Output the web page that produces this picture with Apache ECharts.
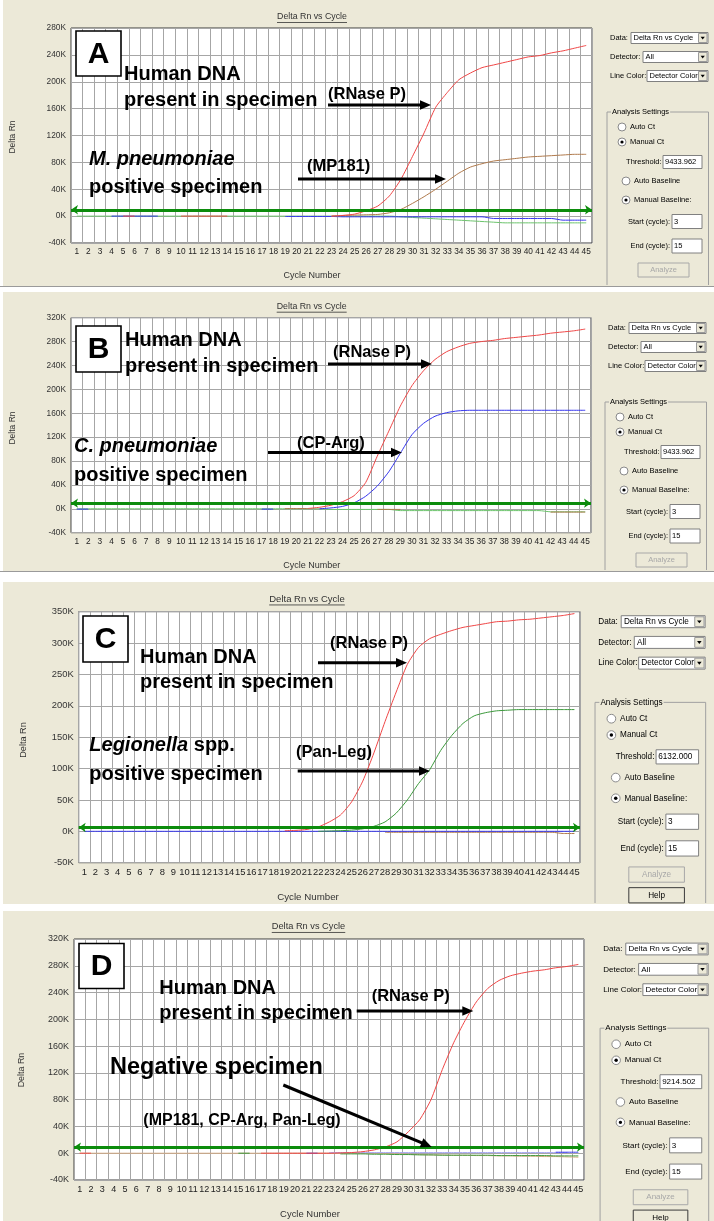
<!DOCTYPE html>
<html>
<head>
<meta charset="utf-8">
<title>Delta Rn vs Cycle</title>
<script src="https://cdn.jsdelivr.net/npm/echarts@6/dist/echarts.min.js"></script>
<style>
  html, body { margin: 0; padding: 0; background: #fff; }
  #chart { width: 714px; height: 1221px; }
</style>
</head>
<body>
<div id="chart"></div>
<script>
const _ = null;

// cycle numbers on the x axis
const cycles = ['1','2','3','4','5','6','7','8','9','10','11','12','13','14','15',
  '16','17','18','19','20','21','22','23','24','25','26','27','28','29','30',
  '31','32','33','34','35','36','37','38','39','40','41','42','43','44','45'];

// y tick values, in thousands (shown as "K")
const aTicks = [-40, 0, 40, 80, 120, 160, 200, 240, 280];
const bTicks = [-40, 0, 40, 80, 120, 160, 200, 240, 280, 320];
const cTicks = [-50, 0, 50, 100, 150, 200, 250, 300, 350];
const dTicks = [-40, 0, 40, 80, 120, 160, 200, 240, 280, 320];

// threshold fields, as shown in the settings box
const thresholds = ['9433.962', '9433.962', '6132.000', '9214.502'];

// ---- panel A : M. pneumoniae (Delta Rn, K) ----
const aGreen = [
  0, 0, 0, 0, 0, 0, 0, 0, 0, 0, 0, 0, 0, 0, 0,
  0, 0, 0, 0, 0, 0, 0, 0, 0, 0, 0, 0, 0, -1, -2,
  -3, -4, -5, -6, -7, -8, -9, -10, -10, -10, -10, -10, -10, -10, -10];
const aBlue = [
  _, _, _, 0, 0, 0, 0, 0, _, _, _, _, _, _, _,
  _, _, _, -0.5, -0.5, -0.5, -0.5, -0.5, -1, -1, -1, -1, -1, -1, -1,
  -1, -1, -1, -1, -1, -1, -3.5, -3.5, -3.5, -3.5, -3.5, -3.5, -6, -6, -6];
const aBrown = [
  _, _, _, _, _, _, _, _, _, _, _, _, _, _, _,
  _, _, _, _, _, _, _, 0, 1, 1.5, 2, 2.5, 5, 10, 19,
  29, 40, 52, 64, 73, 78, 82, 84, 86, 88, 89, 90, 91, 92, 92];
const aRed = [
  _, _, _, _, 0, 0, _, _, _, 0, 0, 0, 0, 0, _,
  _, _, _, _, _, _, _, 0, 1, 3, 8, 15, 30, 55, 89,
  124, 162, 184, 203, 213, 221, 225, 229, 233, 237, 239, 243, 246, 250, 254];

// ---- panel B : C. pneumoniae ----
const bGreen = [
  0, 0, 0, 0, 0, 0, 0, 0, 0, 0, 0, 0, 0, 0, 0,
  0, 0, 0, 0, 0, 0, 0, -1, -1, -1, -1, -1, -1, -3, -3,
  -3, -3, -3, -3, -3, -3, -3, -3, -3, -3, -3, -5, -5, -5, -5];
const bBrown = [
  _, _, _, _, _, _, _, _, _, _, _, _, _, _, _,
  _, _, _, 0.5, 0.5, 0.5, _, _, _, _, _, -1, -1, -1, _,
  _, _, _, _, _, _, _, _, _, _, _, -5.5, -5.5, -5.5, -5.5];
const bBlue = [
  -0.5, -0.5, _, _, _, _, _, _, _, _, _, _, _, _, _,
  _, -0.5, -0.5, _, _, _, 0, 1.5, 4, 10, 21, 38, 62, 93, 124,
  143, 155, 161, 164, 165, 165, 165, 165, 165, 165, 165, 165, 165, 165, 165];
const bRed = [
  _, _, _, _, _, _, _, _, _, _, _, _, _, _, _,
  _, _, _, _, _, 0.5, 2.5, 6, 12, 22, 44, 88, 130, 172, 206,
  231, 250, 263, 271, 277, 280, 282, 285, 287, 289, 291, 294, 296, 298, 301];

// ---- panel C : Legionella spp. ----
const cBlue = [
  0, 0, 0, 0, 0, 0, 0, 0, 0, 0, 0, 0, 0, 0, 0,
  0, 0, 0, 0, 0, 0, 0, 0, 0, 0, 0, 0, 0, 0, 0,
  0, 0, 0, 0, 0, 0, 0, 0, 0, 0, 0, 0, 0, 0, 0];
const cBrown = [
  _, _, _, _, _, _, _, _, _, _, _, _, _, _, _,
  _, _, _, _, _, _, _, _, _, _, _, _, -1.5, -1.5, -1.5,
  -1.5, -1.5, -1.5, -1.5, -1.5, -1.5, -1.5, -1.5, -1.5, -1.5, -1.5, -1.5, -1.5, -3.5, -3.5];
const cGreen = [
  _, _, _, _, _, _, _, _, _, _, _, _, _, _, _,
  _, _, _, _, _, _, 0, 0.5, 1, 2, 4, 8, 15, 29, 50,
  76, 98, 129, 153, 172, 184, 189, 192, 193, 194, 194, 194, 194, 194, 194];
const cRed = [
  _, _, _, _, _, _, _, _, _, _, _, _, _, _, _,
  _, _, _, 1, 1.5, 3, 7, 15, 26, 47, 80, 125, 175, 222, 266,
  293, 307, 314, 320, 325, 328, 331, 334, 335, 337, 338, 340, 342, 344, 347];

// ---- panel D : negative specimen ----
const dTan = [
  0, 0, 0, 0, 0, 0, 0, 0, 0, 0, 0, 0, 0, 0, 0,
  0, 0, 0, 0, 0, 0, 0, 0, 0, 0, 0, 0, -0.5, -1, -1.5,
  -2, -2.5, -2.5, -3, -3, -3.5, -3.5, -4, -4, -4.5, -4.5, -5, -5, -5.5, -6];
const dGreen = [
  _, _, _, _, _, _, _, _, _, _, _, _, _, _, 0,
  0, _, _, _, _, _, _, _, -1, -1, -1, -1.5, -1.5, -2, -2,
  -2.5, -2.5, -3, -3, -3, -3, -3, -3.5, -3.5, -3.5, -3.5, -3.5, -4, -4, -4];
const dLavender = [
  _, _, _, _, _, _, _, _, _, _, _, _, _, _, _,
  _, _, _, _, _, _, _, 1, 1, 1, 1, 1, 1, 1, 1,
  1, 1, 1, 1, 1, 1, 1, 1, 1, 1, 1, 1, 1, 1, _];
const dBlue = [
  _, _, _, _, _, _, _, _, _, _, _, _, _, _, _,
  _, _, _, _, _, 0, 0, _, _, _, _, _, _, _, _,
  _, _, _, _, _, _, _, _, _, _, _, _, 1.5, 1.5, 1.5];
const dRed = [
  0, 0, _, _, _, _, _, _, _, _, _, _, _, _, _,
  _, 0, 0, 0, 0, 0, 0, 0, 0.5, 1, 2.4, 5, 9.5, 17, 32,
  50, 80, 125, 165, 198, 226, 246, 258, 265, 269, 272, 274, 277, 279, 282];

const FONT = '"Liberation Sans", Arial, sans-serif';
const BEIGE = '#ece9d8';
const col = {
  red: '#f04646', brown: '#b07a4c', blue: '#3434ee', green: '#3c9a3c',
  lightGreen: '#6cc46c', tan: '#d4aa80', lavender: '#a8a8f4', threshold: '#0c8c0c'
};

const panels = [
  { grid: { left: 71, top: 28, width: 521, height: 215 }, ticks: aTicks, fs: 8.3, f: 1,
    lines: [[aGreen, col.lightGreen], [aBlue, col.blue], [aBrown, col.brown], [aRed, col.red]],
    title: [312, 17], xName: [312, 276], yName: [13, 137],
    ctl: [610, 38, 1, 285, false] },
  { grid: { left: 71, top: 317.7, width: 520, height: 215 }, ticks: bTicks, fs: 8.3, f: 1,
    lines: [[bGreen, col.lightGreen], [bBrown, col.brown], [bBlue, col.blue], [bRed, col.red]],
    title: [311.7, 306.7], xName: [311.7, 566], yName: [13, 428],
    ctl: [608, 328, 1, 570, false] },
  { grid: { left: 78.7, top: 611.7, width: 501.3, height: 251 }, ticks: cTicks, fs: 9.4, f: 1.08,
    lines: [[cBrown, col.brown], [cBlue, col.blue], [cGreen, col.green], [cRed, col.red]],
    title: [307, 599], xName: [308, 897], yName: [23.3, 740],
    ctl: [598.3, 621.7, 1.09, 903, true] },
  { grid: { left: 74, top: 939, width: 510, height: 241 }, ticks: dTicks, fs: 9, f: 1.05,
    lines: [[dTan, col.tan], [dGreen, col.green], [dLavender, col.lavender], [dBlue, col.blue], [dRed, col.red]],
    title: [308.5, 926.7], xName: [310, 1214], yName: [21.7, 1070],
    ctl: [603.3, 949, 1.07, 1221, true] }
];

// ---------- drawing helpers for the annotation layer ----------
function txt(x, y, text, size, opt) {
  opt = opt || {};
  return { type: 'text', x, y, z: 100, silent: true,
    style: { text, fill: '#000', align: opt.align || 'left', verticalAlign: 'middle',
      font: (opt.italic ? 'italic ' : '') + 'bold ' + size + 'px ' + FONT, rich: opt.rich } };
}
function arrow(x1, y1, x2, y2) {
  const dx = x2 - x1, dy = y2 - y1, len = Math.hypot(dx, dy);
  const ux = dx / len, uy = dy / len, hl = 11, hw = 4.8;
  const bx = x2 - ux * hl, by = y2 - uy * hl;
  return [
    { type: 'line', z: 100, silent: true, shape: { x1, y1, x2: bx + ux, y2: by + uy }, style: { stroke: '#000', lineWidth: 3 } },
    { type: 'polygon', z: 100, silent: true,
      shape: { points: [[x2, y2], [bx - uy * hw, by + ux * hw], [bx + uy * hw, by - ux * hw]] }, style: { fill: '#000' } }
  ];
}
function letterBox(x, y, w, h, letter) {
  return [
    { type: 'rect', z: 99, silent: true, shape: { x, y, width: w, height: h }, style: { fill: '#fff', stroke: '#000', lineWidth: 1.6 } },
    txt(x + w / 2, y + h / 2 + 1, letter, 30, { align: 'center' })
  ];
}

// window controls on the right of each panel
function controls(x0, y0, s, bottom, help, thr) {
  const X = v => x0 + s * (v - 610);
  const Y = v => y0 + s * (v - 38);
  const font = (7.5 * s).toFixed(2) + 'px ' + FONT;
  const els = [];
  const label = (x, y, text, align, fill) => els.push({ type: 'text', x: X(x), y: Y(y), z: 60, silent: true,
    style: { text, font, fill: fill || '#000', align: align || 'left', verticalAlign: 'middle' } });
  const box = (x1, y1, x2, y2, fill, stroke) => els.push({ type: 'rect', z: 55, silent: true,
    shape: { x: X(x1), y: Y(y1), width: s * (x2 - x1), height: s * (y2 - y1) },
    style: { fill: fill || '#fff', stroke: stroke || '#808080', lineWidth: 1 } });
  const combo = (y, name, x1, value) => {
    label(610, y, name);
    box(x1, y - 5.5, 708, y + 5.5);
    label(x1 + 2.5, y, value);
    box(698.5, y - 4.5, 707, y + 4.5, BEIGE, '#9a9a9a');
    els.push({ type: 'polygon', z: 61, silent: true,
      shape: { points: [[X(700.6), Y(y - 1.2)], [X(704.8), Y(y - 1.2)], [X(702.7), Y(y + 1.4)]] }, style: { fill: '#000' } });
  };
  const radio = (cx, cy, on, text) => {
    els.push({ type: 'circle', z: 55, silent: true, shape: { cx: X(cx), cy: Y(cy), r: 4 * s },
      style: { fill: '#fff', stroke: '#8a8a8a', lineWidth: 1 } });
    if (on) els.push({ type: 'circle', z: 56, silent: true, shape: { cx: X(cx), cy: Y(cy), r: 1.6 * s }, style: { fill: '#000' } });
    label(cx + 8, cy, text);
  };
  const button = (y1, text, enabled) => {
    box(638, y1, 689, y1 + 14, BEIGE, enabled ? '#3a3a3a' : '#a8a8a8');
    label(663.5, y1 + 7, text, 'center', enabled ? '#000' : '#a8a8a8');
  };

  combo(38, 'Data:', 631, 'Delta Rn vs Cycle');
  combo(57, 'Detector:', 643, 'All');
  combo(76, 'Line Color:', 647, 'Detector Color');
  els.push({ type: 'polyline', z: 54, silent: true,
    shape: { points: [[X(607), bottom], [X(607), Y(112)], [X(708.5), Y(112)], [X(708.5), bottom]] },
    style: { stroke: '#a0a0a0', lineWidth: 1, fill: null } });
  els.push({ type: 'text', x: X(611), y: Y(112), z: 60, silent: true,
    style: { text: 'Analysis Settings', font, fill: '#000', verticalAlign: 'middle', backgroundColor: BEIGE, padding: [1, 1] } });
  radio(622, 127, false, 'Auto Ct');
  radio(622, 142, true, 'Manual Ct');
  label(661.5, 162, 'Threshold:', 'right');
  box(663, 155.5, 702, 168.5);
  label(665, 162, thr);
  radio(626, 181, false, 'Auto Baseline');
  radio(626, 200, true, 'Manual Baseline:');
  label(670, 221.5, 'Start (cycle):', 'right');
  box(672, 214.5, 702, 228.5);
  label(674, 221.5, '3');
  label(670, 246, 'End (cycle):', 'right');
  box(672, 239, 702, 253);
  label(674, 246, '15');
  button(263, 'Analyze', false);
  if (help) button(282, 'Help', true);
  return els;
}

// titles and axis names drawn like the instrument software
function frameTexts(p) {
  const f = p.f;
  const w = 70 * f;
  return [
    { type: 'text', x: p.title[0], y: p.title[1], z: 60, silent: true,
      style: { text: 'Delta Rn vs Cycle', font: (8.8 * f) + 'px ' + FONT, fill: '#333', align: 'center', verticalAlign: 'middle' } },
    { type: 'line', z: 60, silent: true,
      shape: { x1: p.title[0] - w / 2, y1: p.title[1] + 5.5 * f, x2: p.title[0] + w / 2, y2: p.title[1] + 5.5 * f },
      style: { stroke: '#333', lineWidth: 0.8 } },
    { type: 'text', x: p.xName[0], y: p.xName[1], z: 60, silent: true,
      style: { text: 'Cycle Number', font: (9 * f) + 'px ' + FONT, fill: '#333', align: 'center', verticalAlign: 'middle' } },
    { type: 'text', x: p.yName[0], y: p.yName[1], rotation: Math.PI / 2, z: 60, silent: true,
      style: { text: 'Delta Rn', font: (8.5 * f) + 'px ' + FONT, fill: '#333', align: 'center', verticalAlign: 'middle' } }
  ];
}

// ---------- build the option ----------
const graphics = [
  { type: 'rect', z: -100, silent: true, shape: { x: 3, y: 0, width: 711, height: 286 }, style: { fill: BEIGE } },
  { type: 'line', z: -99, silent: true, shape: { x1: 0, y1: 286.5, x2: 714, y2: 286.5 }, style: { stroke: '#9a9a9a' } },
  { type: 'rect', z: -100, silent: true, shape: { x: 3, y: 292, width: 711, height: 279 }, style: { fill: BEIGE } },
  { type: 'line', z: -99, silent: true, shape: { x1: 0, y1: 571.5, x2: 714, y2: 571.5 }, style: { stroke: '#9a9a9a' } },
  { type: 'rect', z: -100, silent: true, shape: { x: 3, y: 582, width: 711, height: 322 }, style: { fill: BEIGE } },
  { type: 'rect', z: -100, silent: true, shape: { x: 3, y: 911, width: 711, height: 310 }, style: { fill: BEIGE } }
];

panels.forEach((p, i) => {
  graphics.push(...frameTexts(p));
  const c = p.ctl;
  graphics.push(...controls(c[0], c[1], c[2], c[3], c[4], thresholds[i]));
});

const big = 20, mid = 16.5;
graphics.push(
  // A
  ...letterBox(76, 31, 45, 45, 'A'),
  txt(124, 74, 'Human DNA', big), txt(124, 100.5, 'present in specimen', big),
  txt(89, 159.5, 'M. pneumoniae', big, { italic: true }), txt(89, 187, 'positive specimen', big),
  txt(328, 94, '(RNase P)', mid), ...arrow(328, 105, 431, 105),
  txt(307, 166, '(MP181)', mid), ...arrow(298, 179, 446, 179),
  // B
  ...letterBox(76, 326, 45, 46, 'B'),
  txt(125, 340.5, 'Human DNA', big), txt(125, 366.5, 'present in specimen', big),
  txt(74, 446, 'C. pneumoniae', big, { italic: true }), txt(74, 475.5, 'positive specimen', big),
  txt(333, 352.5, '(RNase P)', mid), ...arrow(328, 364, 432, 364),
  txt(297, 443.5, '(CP-Arg)', mid), ...arrow(268, 452.5, 402, 452.5),
  // C
  ...letterBox(83, 616, 45, 46, 'C'),
  txt(140, 657, 'Human DNA', big), txt(140, 682.5, 'present in specimen', big),
  txt(89.3, 745, '{i|Legionella} spp.', big, { rich: { i: { font: 'italic bold ' + big + 'px ' + FONT, fill: '#000' } } }),
  txt(89.3, 774, 'positive specimen', big),
  txt(330, 643.5, '(RNase P)', mid), ...arrow(318, 662.7, 407, 662.7),
  txt(296, 752.5, '(Pan-Leg)', mid), ...arrow(297.7, 771, 430, 771),
  // D
  ...letterBox(79, 943.5, 45, 45, 'D'),
  txt(159.3, 988, 'Human DNA', big), txt(159.3, 1013.5, 'present in specimen', big),
  txt(110, 1068, 'Negative specimen', 23.5),
  txt(143.3, 1121, '(MP181, CP-Arg, Pan-Leg)', 16),
  txt(371.7, 996, '(RNase P)', mid), ...arrow(356.7, 1011, 473.3, 1011),
  ...arrow(283.3, 1085, 431.7, 1147)
);

const grids = [], xAxes = [], yAxes = [], series = [];
panels.forEach((p, i) => {
  grids.push(Object.assign({ show: true, backgroundColor: '#fff', borderColor: '#3c3c3c', borderWidth: 1,
    containLabel: false, outerBoundsMode: 'none' }, p.grid));
  xAxes.push({
    type: 'category', gridIndex: i, data: cycles, boundaryGap: true,
    axisLine: { show: false }, axisTick: { show: false },
    axisLabel: { interval: 0, margin: 5, fontSize: p.fs, fontFamily: FONT, color: '#222' },
    splitLine: { show: true, interval: 0, lineStyle: { color: '#a6a6a6', width: 1 } }
  });
  const t = p.ticks;
  yAxes.push({
    type: 'value', gridIndex: i, min: t[0], max: t[t.length - 1], interval: t[1] - t[0],
    axisLine: { show: false }, axisTick: { show: false },
    axisLabel: { margin: 5, fontSize: p.fs, fontFamily: FONT, color: '#333', formatter: v => v + 'K' },
    splitLine: { show: true, lineStyle: { color: '#a6a6a6', width: 1 } }
  });
  p.lines.forEach(([data, color]) => {
    series.push({
      type: 'line', xAxisIndex: i, yAxisIndex: i, data, symbol: 'none', smooth: 0.2,
      lineStyle: { color, width: 1 }, itemStyle: { color }, silent: true, z: 2
    });
  });
  // threshold line with arrows at both ends
  series.push({
    type: 'line', xAxisIndex: i, yAxisIndex: i, data: [], symbol: 'none', silent: true, z: 5,
    markLine: {
      silent: true, symbol: ['arrow', 'arrow'], symbolSize: [7, 7], animation: false,
      label: { show: false }, emphasis: { disabled: true },
      lineStyle: { color: col.threshold, width: 3, type: 'solid' },
      data: [{ yAxis: parseFloat(thresholds[i]) / 1000 }]
    }
  });
});

const chart = echarts.init(document.getElementById('chart'));
chart.setOption({
  backgroundColor: '#fff',
  animation: false,
  textStyle: { fontFamily: FONT },
  grid: grids,
  xAxis: xAxes,
  yAxis: yAxes,
  series,
  graphic: { elements: graphics }
});
window.addEventListener('resize', () => chart.resize());
</script>
</body>
</html>
